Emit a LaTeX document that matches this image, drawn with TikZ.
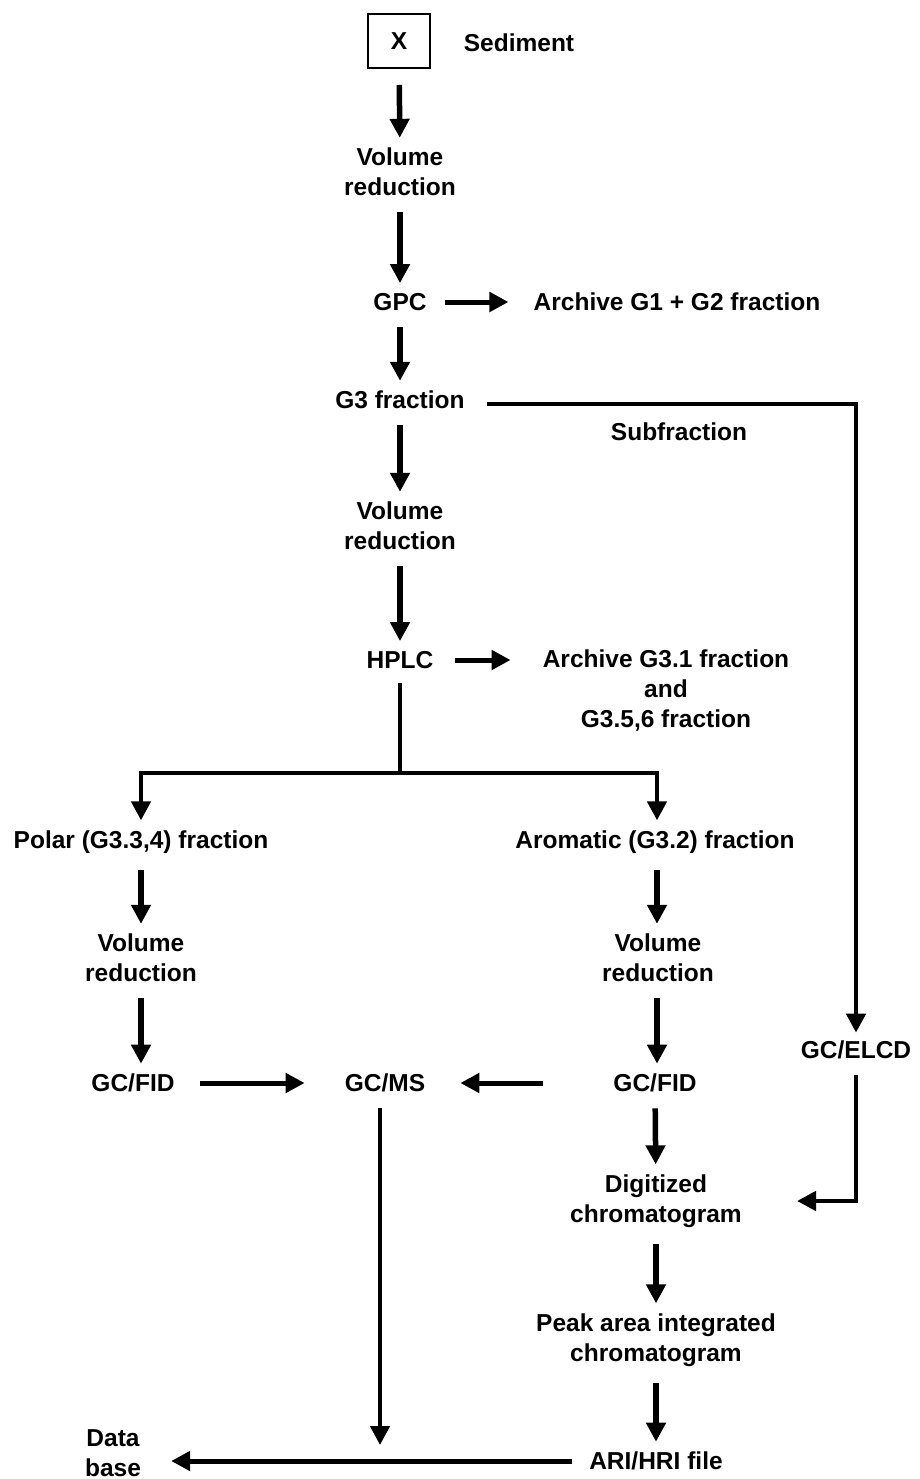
\documentclass[tikz,border=0pt]{standalone}
\usepackage{fontspec}
\setmainfont{Liberation Sans}
\usetikzlibrary{arrows.meta,calc}
\begin{document}
\begin{tikzpicture}[x=1pt,y=-1pt,
  lbl/.style={font=\fontsize{24.5}{30}\selectfont\bfseries, align=center, inner sep=0pt},
  tip/.style={-{Triangle[width=19pt,length=19pt]}},
  arr/.style={line width=5.5pt, tip, shorten <=16pt, shorten >=10pt},
  harr/.style={line width=5pt, tip},
  plain/.style={line width=4.5pt}]
\useasboundingbox (0,0) rectangle (919,1479);
\node[draw, line width=2pt, minimum width=62pt, minimum height=54pt, lbl] (x) at (399,41) {X};
\node[lbl] (sed) at (519,43) {Sediment};
\node[lbl] (vr1) at (400,172) {Volume\\reduction};
\node[lbl] (gpc) at (400,302) {GPC};
\node[lbl] (arch1) at (677,302) {Archive G1 + G2 fraction};
\node[lbl] (g3) at (400,400) {G3 fraction};
\node[lbl] (subf) at (679,432) {Subfraction};
\node[lbl] (vr2) at (400,526) {Volume\\reduction};
\node[lbl] (hplc) at (400,660) {HPLC};
\node[lbl] (arch2) at (666,691) {Archive G3.1 fraction\\and\\G3.5,6 fraction};
\node[lbl] (polar) at (141,842) {Polar (G3.3,4) fraction};
\node[lbl] (arom) at (655,842) {Aromatic (G3.2) fraction};
\node[lbl] (vr3) at (141,958) {Volume\\reduction};
\node[lbl] (vr4) at (658,958) {Volume\\reduction};
\node[lbl] (fid1) at (133,1083) {GC/FID};
\node[lbl] (gcms) at (385,1083) {GC/MS};
\node[lbl] (fid2) at (655,1083) {GC/FID};
\node[lbl] (elcd) at (856,1050) {GC/ELCD};
\node[lbl] (dig) at (656,1201) {Digitized\\chromatogram};
\node[lbl] (peak) at (656,1340) {Peak area integrated\\chromatogram};
\node[lbl] (ari) at (656,1461) {ARI/HRI file};
\node[lbl] (db) at (113,1453) {Data\\base};
% main column
\draw[arr] (x) -- (vr1);
\draw[arr] (vr1) -- (gpc);
\draw[arr] (gpc) -- (g3);
\draw[arr] (g3) -- (vr2);
\draw[arr] (vr2) -- (hplc);
\draw[harr] ([xshift=45pt]gpc.center) -- ([xshift=-25pt]arch1.west);
\draw[harr] ([xshift=55pt]hplc.center) -- ($(arch2.west|-hplc)+(-32,0)$);
% subfraction branch
\coordinate (s0) at ($(g3.east)+(22,4)$);
\coordinate (scorner) at (856,404);
\draw[line width=4.5pt, tip, shorten >=8pt] (s0) -- (scorner) -- (elcd.north);
% branch after HPLC
\coordinate (br) at (400,773);
\draw[plain] ([yshift=-14pt]hplc.south) -- (br);
\draw[line width=4.5pt, tip, shorten >=10pt] (br) -| (polar.north);
\draw[line width=4.5pt, tip, shorten >=10pt] (br) -| ([xshift=2pt]arom.north);
% left column
\draw[arr] (polar) -- (vr3);
\draw[arr] (vr3) -- (vr3 |- fid1.north);
\draw[harr] ([xshift=67pt]fid1.center) -- ([xshift=-40pt]gcms.west);
% right column
\draw[arr] ([xshift=2pt]arom.south) -- ([xshift=2pt]arom.south |- vr4.north);
\draw[arr] ([xshift=-1pt]vr4.south) -- ([xshift=-1pt]vr4.south |- fid2.north);
\draw[harr] ([xshift=-112pt]fid2.center) -- ([xshift=35pt]gcms.east);
\draw[arr] (fid2) -- (dig);
\draw[arr] (dig) -- (peak);
\draw[arr] (peak) -- (ari);
% GC/ELCD to digitized
\coordinate (e1) at (856,1201);
\coordinate (e2) at (797,1201);
\draw[line width=4.5pt, tip, shorten <=16pt] (elcd.south) -- (e1) -- (e2);
% GC/MS down and data base
\draw[line width=4.5pt, tip, shorten <=16pt, shorten >=16pt] ([xshift=-5pt]gcms.south) -- ([xshift=-5pt]gcms.south |- ari.center);
\draw[harr] ([xshift=-17pt]ari.west) -- ([xshift=30pt]db.east |- ari.center);
\end{tikzpicture}
\end{document}
